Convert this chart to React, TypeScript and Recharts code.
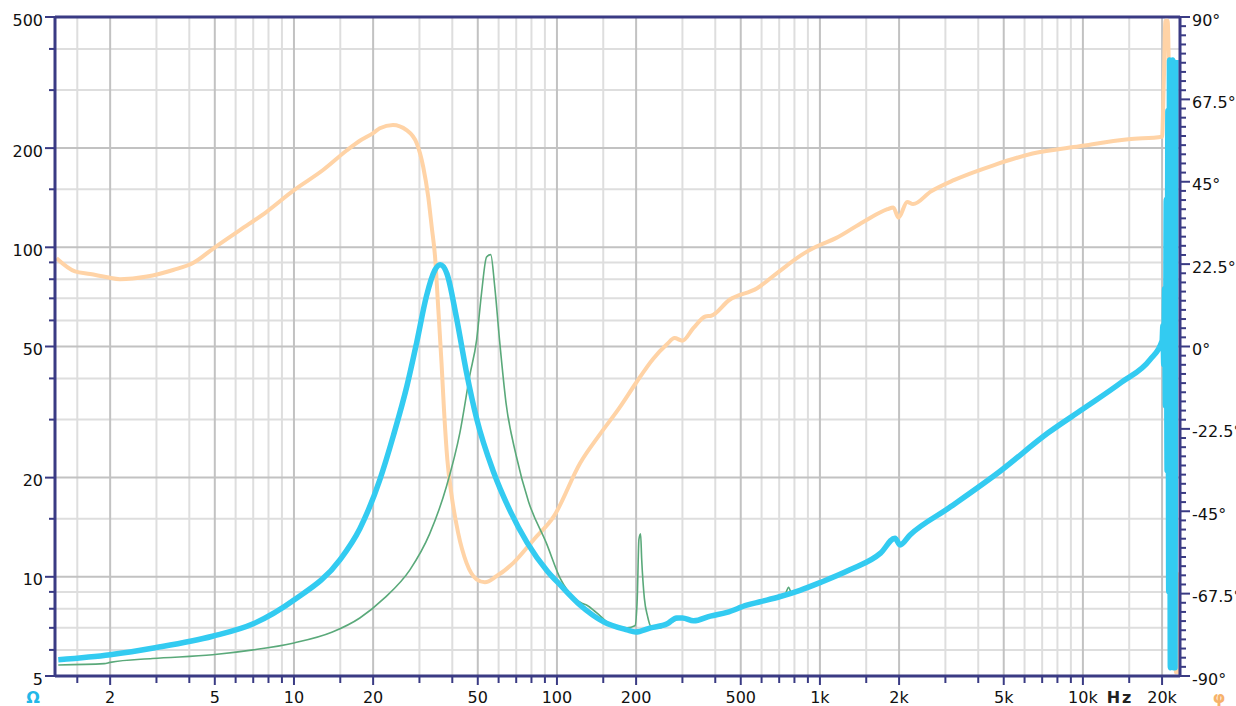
import React from "react";
import { ComposedChart, Line, XAxis, YAxis, CartesianGrid, ReferenceLine } from "recharts";

const NAVY = "#3a3b84";
const FONT = "'DejaVu Sans', Verdana, sans-serif";
const ORANGE = "#ffd3a6";
const CYAN = "#33cbf1";
const GREEN = "#5aa97a";

// ---- ticks / labels ----
const xTicks = [1.5, 2, 3, 4, 5, 6, 7, 8, 9, 10, 15, 20, 30, 40, 50, 60, 70, 80, 90, 100, 150, 200, 300, 400, 500, 600, 700, 800, 900, 1000, 1500, 2000, 3000, 4000, 5000, 6000, 7000, 8000, 9000, 10000, 15000, 20000];
const xLabelValues = [2, 5, 10, 20, 50, 100, 200, 500, 1000, 2000, 5000, 10000, 20000];
const xLabelTexts = ["2", "5", "10", "20", "50", "100", "200", "500", "1k", "2k", "5k", "10k", "20k"];

const yTicks = [5, 6, 7, 8, 9, 10, 15, 20, 30, 40, 50, 60, 70, 80, 90, 100, 150, 200, 300, 400, 500];
const yLabelValues = [5, 10, 20, 50, 100, 200, 500];
const yMajorGrid = [10, 20, 50, 100, 200];
const yMinorGrid = [6, 7, 8, 9, 15, 30, 40, 60, 70, 80, 90, 150, 300, 400];
const xMinorGrid = [1.5, 3, 4, 6, 7, 8, 9, 15, 30, 40, 60, 70, 80, 90, 150, 300, 400, 600, 700, 800, 900, 1500, 3000, 4000, 6000, 7000, 8000, 9000, 15000];

const phaseLabelValues = [-90, -67.5, -45, -22.5, 0, 22.5, 45, 67.5, 90];
const phaseTicks = Array.from({ length: 73 }, (_, i) => -90 + i * 2.5);

// ---- series: phase (orange, degrees) ----
const phaseFreq = [1.25, 1.47, 1.68, 1.95, 2.18, 2.76, 3.47, 4.13, 4.96, 6.23, 7.87, 10, 12.9, 15.9, 17.8, 20, 21.2, 23.8, 26.8, 29.3, 31, 32.4, 33.4, 34.4, 35.4, 36.4, 37.2, 38.3, 39.8, 42.1, 45.3, 49.5, 53.2, 59, 68.3, 81.7, 97.3, 122.6, 145.6, 173, 200, 232, 262, 280, 300, 330, 367, 386, 452, 577, 685, 873, 970, 1150, 1466, 1806, 1900, 1990, 2147, 2260, 2637, 3245, 4568, 6435, 9715, 14900, 20000, 20300, 20600, 21000, 21500, 22000, 22400, 22600, 22800, 23000, 23200, 23350];
const phaseDeg = [24.1, 20.5, 19.8, 18.9, 18.4, 19.1, 20.9, 22.8, 26.9, 31.8, 36.8, 42.7, 48.2, 53.6, 56.2, 58.3, 59.6, 60.5, 59.1, 55.5, 49.1, 40.9, 32.7, 24.5, 10.0, -4.5, -17.3, -30.9, -40.9, -50.9, -59.1, -63.6, -64.4, -62.7, -59.1, -52.7, -46.4, -31.8, -24.0, -16.7, -9.9, -3.4, 0.6, 2.3, 1.6, 5.0, 8.2, 8.4, 12.7, 15.9, 20.0, 25.5, 27.3, 29.6, 34.1, 37.5, 38.0, 35.2, 39.5, 38.9, 42.3, 45.5, 49.5, 52.7, 54.7, 56.6, 57.3, 72, 89, 89, 40, -20, -70, -89, -62, -89, -72, -89];

// ---- series: impedance (cyan, ohm) ----
const zFreq = [1.27, 2, 3, 4.9, 7, 10, 15, 17.8, 21.2, 23.9, 26.9, 29.3, 31.9, 34.3, 36, 38.2, 41.4, 45.3, 49.5, 57.4, 66.5, 77, 92, 103.5, 122.6, 150.6, 184.8, 199, 227, 262.6, 285, 300, 331, 383, 443, 527, 592, 702, 840, 1000, 1300, 1700, 1930, 2016, 2200, 3100, 4800, 7400, 10000, 14000, 18000, 20000, 20150, 20300, 20450, 20600, 20750, 20900, 21050, 21200, 21350, 21500, 21650, 21800, 21950, 22100, 22250, 22400, 22600];
const zOhm = [5.6, 5.8, 6.1, 6.6, 7.2, 8.5, 11.3, 14.0, 19.7, 26.9, 38.0, 51.5, 71.1, 85.1, 88.5, 83.0, 61.7, 41.7, 30.2, 20.8, 15.8, 12.7, 10.4, 9.4, 8.2, 7.3, 6.9, 6.8, 7.0, 7.2, 7.5, 7.5, 7.35, 7.6, 7.8, 8.2, 8.4, 8.7, 9.1, 9.6, 10.5, 11.8, 13.1, 12.5, 13.4, 16.2, 20.8, 27.4, 32.3, 38.9, 45.6, 52, 58, 44, 75, 33, 140, 21, 260, 9, 370, 5.3, 360, 5.4, 370, 5.3, 365, 5.3, 370];

// ---- series: impedance (green, ohm) ----
const gFreq = [1.27, 1.9, 2.0, 2.9, 4.9, 7, 10, 14, 17.8, 22, 27.6, 32.8, 38, 42.8, 46.6, 49.5, 51.7, 54, 56, 58, 60.6, 64, 70, 78, 91, 103.5, 115, 125, 130, 141, 159, 185, 198, 202, 205, 208, 210, 215, 221, 227, 245, 262, 295, 331, 383, 443, 527, 592, 702, 740, 760, 780, 840, 1000, 1300, 1700, 1930, 2016, 2200, 3100, 4800, 7400, 10000, 14000, 18000, 20000];
const gOhm = [5.4, 5.45, 5.5, 5.65, 5.8, 6.0, 6.3, 6.8, 7.5, 8.6, 10.5, 13.5, 18.8, 27.5, 40.8, 52.4, 72.9, 93.5, 95, 76, 51.5, 33.8, 23.3, 16.9, 12.7, 9.8, 8.7, 8.3, 8.2, 7.8, 7.2, 7.0, 7.1, 8.6, 13.0, 13.5, 11.3, 8.6, 7.6, 7.1, 7.0, 7.15, 7.45, 7.35, 7.55, 7.75, 8.15, 8.35, 8.65, 8.9, 9.3, 8.9, 9.05, 9.55, 10.45, 11.75, 13.0, 12.45, 13.3, 16.1, 20.7, 27.3, 32.2, 38.8, 45.5, 51.8];

const phaseData = phaseFreq.map((f, i) => ({ f, v: phaseDeg[i] }));
const zData = zFreq.map((f, i) => ({ f, v: zOhm[i] }));
const gData = gFreq.map((f, i) => ({ f, v: gOhm[i] }));

const XTick = (props: any) => {
  const { x, y, payload } = props;
  const idx = xLabelValues.indexOf(payload.value);
  const lab = idx >= 0;
  return (
    <g>
      <line x1={x} x2={x} y1={y} y2={y + (lab ? 9 : 7)} stroke={NAVY} strokeWidth={2} />
      {lab && (
        <text x={x} y={y + 27} textAnchor="middle" fontSize={16} fontFamily={FONT} fill="#111">
          {xLabelTexts[idx]}
        </text>
      )}
    </g>
  );
};

const LeftTick = (props: any) => {
  const { x, y, payload } = props;
  const lab = yLabelValues.includes(payload.value);
  return (
    <g>
      <line x1={x} x2={x - (lab ? 10 : 6)} y1={y} y2={y} stroke={NAVY} strokeWidth={2} />
      {lab && (
        <text x={x - 12} y={y + 8.5} textAnchor="end" fontSize={16} fontFamily={FONT} fill="#111">
          {payload.value}
        </text>
      )}
    </g>
  );
};

const RightTick = (props: any) => {
  const { x, y, payload } = props;
  const lab = phaseLabelValues.includes(payload.value);
  return (
    <g>
      <line x1={x} x2={x + (lab ? 10 : 6)} y1={y} y2={y} stroke={NAVY} strokeWidth={2} />
      {lab && (
        <text x={x + 12} y={y + 8.5} textAnchor="start" fontSize={16} fontFamily={FONT} fill="#111">
          {`${payload.value}°`}
        </text>
      )}
    </g>
  );
};

export default function App() {
  return (
    <div style={{ position: "absolute", left: 0, top: 0, width: 1236, height: 706, background: "#fff", overflow: "hidden" }}>
      <ComposedChart width={1236} height={706} margin={{ top: 17, right: 0, bottom: 0, left: 0 }}>
        <CartesianGrid xAxisId="x" yAxisId="left" verticalValues={xMinorGrid} horizontalValues={yMinorGrid} stroke="#dedede" strokeWidth={2} />
        <CartesianGrid xAxisId="x" yAxisId="left" verticalValues={xLabelValues} horizontalValues={yMajorGrid} stroke="#c2c2c2" strokeWidth={2} />
        <XAxis
          xAxisId="x"
          dataKey="f"
          type="number"
          scale="log"
          domain={[1.234, 23400]}
          allowDataOverflow
          ticks={xTicks}
          interval={0}
          tick={<XTick />}
          tickLine={false}
          tickSize={0}
          tickMargin={0}
          height={30}
          axisLine={{ stroke: NAVY, strokeWidth: 3 }}
        />
        <YAxis
          yAxisId="left"
          orientation="left"
          type="number"
          scale="log"
          domain={[5, 500]}
          allowDataOverflow
          ticks={yTicks}
          interval={0}
          tick={<LeftTick />}
          tickLine={false}
          tickSize={0}
          tickMargin={0}
          width={55}
          axisLine={{ stroke: NAVY, strokeWidth: 3 }}
        />
        <YAxis
          yAxisId="right"
          orientation="right"
          type="number"
          domain={[-90, 90]}
          allowDataOverflow
          ticks={phaseTicks}
          interval={0}
          tick={<RightTick />}
          tickLine={false}
          tickSize={0}
          tickMargin={0}
          width={56}
          axisLine={{ stroke: NAVY, strokeWidth: 3 }}
        />
        <ReferenceLine xAxisId="x" yAxisId="left" y={500} stroke={NAVY} strokeWidth={3} />
        <Line xAxisId="x" yAxisId="right" data={phaseData} dataKey="v" type="monotone" stroke={ORANGE} strokeWidth={4} dot={false} activeDot={false} isAnimationActive={false} strokeLinejoin="round" />
        <Line xAxisId="x" yAxisId="left" data={gData} dataKey="v" type="monotone" stroke={GREEN} strokeWidth={1.6} dot={false} activeDot={false} isAnimationActive={false} />
        <Line xAxisId="x" yAxisId="left" data={zData} dataKey="v" type="monotone" stroke={CYAN} strokeWidth={5.5} dot={false} activeDot={false} isAnimationActive={false} strokeLinejoin="round" />
      </ComposedChart>
      <svg width={1236} height={706} style={{ position: "absolute", left: 0, top: 0, pointerEvents: "none" }}>
        <text x={33} y={703} textAnchor="middle" fontSize={16} fontWeight="bold" fontFamily={FONT} fill="#22b8e8">Ω</text>
        <text x={1120} y={703} textAnchor="middle" fontSize={16} fontWeight="bold" fontFamily={FONT} fill="#222" letterSpacing={2}>Hz</text>
        <text x={1219} y={703} textAnchor="middle" fontSize={16} fontWeight="bold" fontFamily={FONT} fill="#f6b26b">φ</text>
      </svg>
    </div>
  );
}
